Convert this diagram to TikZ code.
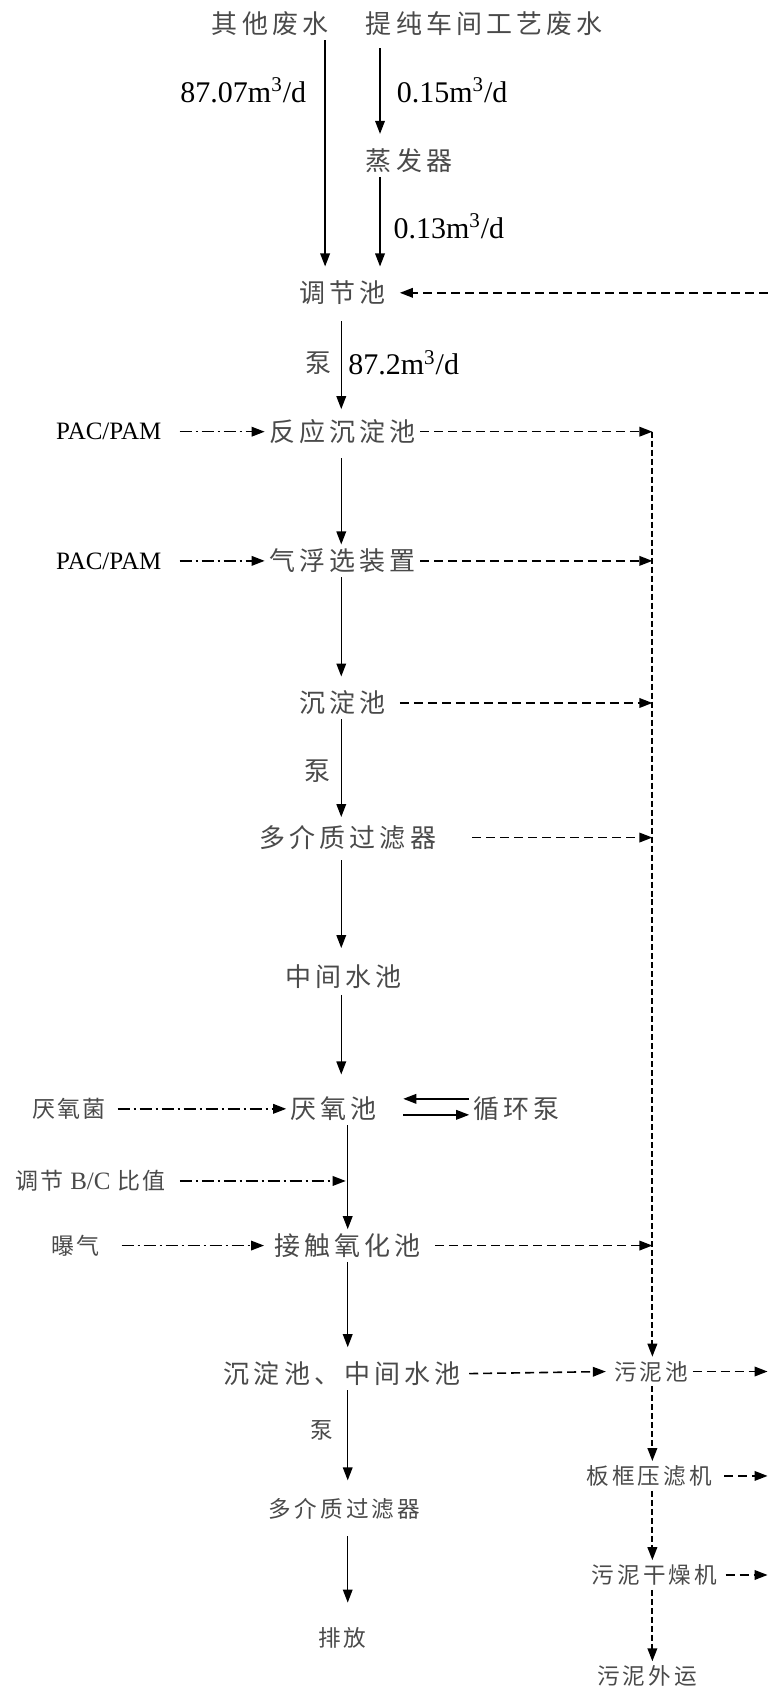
\documentclass[tikz,border=0pt]{standalone}
\usepackage{fontspec}
\setmainfont{Liberation Serif}
\newfontfamily\cjk[LetterSpace=16]{Noto Sans CJK SC}
\newfontfamily\cjksmall[LetterSpace=14]{Noto Sans CJK SC}
\newfontfamily\cjkfeed[LetterSpace=8]{Noto Sans CJK SC}
\usetikzlibrary{arrows.meta}
\definecolor{ink}{HTML}{4A4A4A}
\tikzset{
  % A treatment step on the water line
  unitbox/.style={font=\cjk\fontsize{13}{15}\selectfont, text=ink, inner sep=2pt},
  % A step on the sludge line, smaller type
  mudbox/.style={font=\cjksmall\fontsize{11.3}{13}\selectfont, text=ink, inner sep=2pt},
  % A dosing input on the left
  feedbox/.style={font=\cjkfeed\fontsize{11.5}{13}\selectfont, text=ink, inner sep=2pt},
  % Latin labels: flow rates, chemicals
  latinlbl/.style={font=\fontsize{15}{17}\selectfont, inner sep=1pt},
  chemlbl/.style={font=\fontsize{12.5}{14}\selectfont, inner sep=2pt},
  % Relationships
  flowarrow/.style={-{Triangle[length=6.5pt,width=4.8pt]}, line width=0.75pt},
  dosearrow/.style={-{Triangle[length=6.5pt,width=4.8pt]}, line width=0.75pt,
    dash pattern=on 6pt off 2pt on 1pt off 2pt},
  mudarrow/.style={-{Triangle[length=6.5pt,width=4.8pt]}, line width=0.8pt,
    dash pattern=on 4.5pt off 2.5pt},
  mudbus/.style={-{Triangle[length=6.5pt,width=4.8pt]}, line width=0.9pt,
    dash pattern=on 3pt off 1.5pt},
}

\begin{document}
\begin{tikzpicture}[x=0.5385pt, y=-0.5385pt]
  \useasboundingbox (0,0) rectangle (713,1568);

  % columns the connectors run in
  \coordinate (colA) at (302,0);
  \coordinate (colB) at (353,0);
  \coordinate (colM) at (317,0);
  \coordinate (colN) at (323,0);
  \coordinate (bus) at (606,0);
  \coordinate (edge) at (713,0);

  % inflows
  \node[unitbox] (qita) at (251,22) {其他废水};
  \node[unitbox] (tichun) at (450,22) {提纯车间工艺废水};
  \node[unitbox] (zhengfa) at (380,149) {蒸发器};
  \node[latinlbl] (q1) at (226,84) {87.07m\textsuperscript{3}/d};
  \node[latinlbl] (q2) at (420,84) {0.15m\textsuperscript{3}/d};
  \node[latinlbl] (q3) at (417,210) {0.13m\textsuperscript{3}/d};

  % water line
  \node[unitbox] (tiaojie) at (318,272) {调节池};
  \node[unitbox] (pump1) at (296,337) {泵};
  \node[latinlbl] (q4) at (375,337) {87.2m\textsuperscript{3}/d};
  \node[unitbox] (fanying) at (318,401) {反应沉淀池};
  \node[unitbox] (qifu) at (318,521) {气浮选装置};
  \node[unitbox] (chendian) at (318,653) {沉淀池};
  \node[unitbox] (pump2) at (295,716) {泵};
  \node[unitbox] (duojie) at (323,778) {多介质过滤器};
  \node[unitbox] (zhongjian) at (319,907) {中间水池};
  \node[unitbox] (yanyang) at (310,1030) {厌氧池};
  \node[unitbox] (xunhuan) at (480,1030) {循环泵};
  \node[unitbox] (jiechu) at (323,1157) {接触氧化池};
  \node[unitbox] (chzj) at (318,1276) {沉淀池、中间水池};
  \node[mudbox] (pump3) at (299,1329) {泵};
  \node[mudbox] (duojie2) at (320,1402) {多介质过滤器};
  \node[mudbox] (paifang) at (318,1521) {排放};

  % dosing
  \node[chemlbl] (pac1) at (101,401) {PAC/PAM};
  \node[chemlbl] (pac2) at (101,521) {PAC/PAM};
  \node[feedbox] (jun) at (64,1030) {厌氧菌};
  \node[feedbox] (bc) at (84,1097) {调节 {\rmfamily\fontsize{12.5}{14}\selectfont B/C} 比值};
  \node[feedbox] (baoqi) at (70,1157) {曝气};

  % sludge line
  \node[mudbox] (wunichi) at (605,1274) {污泥池};
  \node[mudbox] (bankuang) at (603,1371) {板框压滤机};
  \node[mudbox] (ganzao) at (608,1463) {污泥干燥机};
  \node[mudbox] (waiyun) at (601,1557) {污泥外运};

  \draw[flowarrow, shorten >=5pt] (qita.south -| colA) -- (tiaojie.north -| colA);
  \draw[flowarrow, shorten <=4pt, shorten >=5pt] (tichun.south -| colB) -- (zhengfa.north -| colB);
  \draw[flowarrow, shorten >=5pt] (zhengfa.south -| colB) -- (tiaojie.north -| colB);
  \draw[flowarrow, shorten <=6pt, shorten >=3pt] (tiaojie.south -| colM) -- (fanying.north -| colM);
  \draw[flowarrow, shorten <=5pt] (fanying.south -| colM) -- (qifu.north -| colM);
  \draw[flowarrow, shorten >=5pt] (qifu.south -| colM) -- (chendian.north -| colM);
  \draw[flowarrow, shorten >=2pt] (chendian.south -| colM) -- (duojie.north -| colM);
  \draw[flowarrow, shorten <=3pt, shorten >=6pt] (duojie.south -| colM) -- (zhongjian.north -| colM);
  \draw[flowarrow, shorten <=1pt, shorten >=9pt] (zhongjian.south -| colM) -- (yanyang.north -| colM);
  \draw[flowarrow] (yanyang.south -| colN) -- (jiechu.north -| colN);
  \draw[flowarrow, shorten >=5pt] (jiechu.south -| colN) -- (chzj.north -| colN);
  \draw[flowarrow, shorten >=7pt] (chzj.south -| colN) -- (duojie2.north -| colN);
  \draw[flowarrow, shorten <=6pt, shorten >=10pt] (duojie2.south -| colN) -- (paifang.north -| colN);

  % recirculation pump
  \draw[flowarrow, shorten >=11pt] ([yshift=5pt]xunhuan.west) -- ([yshift=5pt]yanyang.east);
  \draw[flowarrow, shorten <=11pt] ([yshift=-3pt]yanyang.east) -- ([yshift=-3pt]xunhuan.west);

  \draw[dosearrow, shorten <=7pt] (pac1.east) -- (fanying.west);
  \draw[dosearrow, shorten <=7pt] (pac2.east) -- (qifu.west);
  \draw[dosearrow, shorten <=4pt] (jun.east) -- (yanyang.west);
  \draw[dosearrow, shorten <=5pt, shorten >=1pt] (bc.east) -- (bc.east -| colN);
  \draw[dosearrow, shorten <=9pt, shorten >=3pt] (baoqi.east) -- (jiechu.west);

  \draw[mudarrow] (fanying.east) -- (fanying.east -| bus);
  \draw[mudarrow] (qifu.east) -- (qifu.east -| bus);
  \draw[mudarrow, shorten <=5pt] (chendian.east) -- (chendian.east -| bus);
  \draw[mudarrow, shorten <=16pt] (duojie.east) -- (duojie.east -| bus);
  \draw[mudarrow, shorten <=5pt] (jiechu.east) -- (jiechu.east -| bus);
  \draw[mudbus] (fanying.east -| bus) -- (wunichi.north -| bus);
  \draw[mudarrow, shorten <=2pt, shorten >=2pt] (chzj.east) -- (wunichi.west);
  \draw[mudbus] (wunichi.south -| bus) -- (bankuang.north -| bus);
  \draw[mudbus] (bankuang.south -| bus) -- (ganzao.north -| bus);
  \draw[mudbus] (ganzao.south -| bus) -- (waiyun.north -| bus);

  % back to the equalising tank
  \draw[mudarrow] (wunichi.east) -- (wunichi.east -| edge);
  \draw[mudarrow, shorten <=4pt] (bankuang.east) -- (bankuang.east -| edge);
  \draw[mudarrow, shorten <=2pt] (ganzao.east) -- (ganzao.east -| edge);
  \draw[mudarrow, shorten >=5pt] (tiaojie.east -| edge) -- (tiaojie.east);

\end{tikzpicture}
\end{document}
